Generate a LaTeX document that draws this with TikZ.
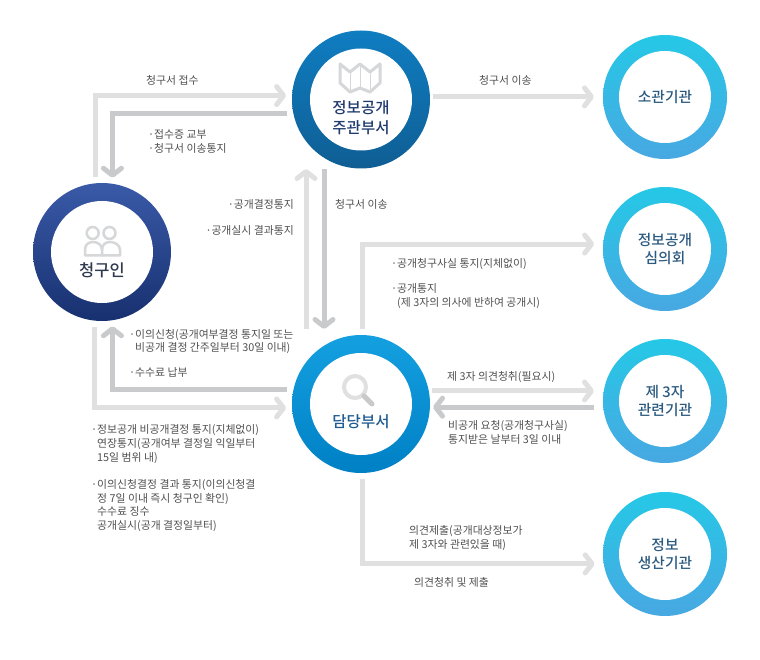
\documentclass[tikz,border=0pt]{standalone}
\usepackage{fontspec}
\setmainfont{Noto Sans CJK KR}
\newfontfamily\namefont{Noto Sans CJK KR Medium}
\usetikzlibrary{arrows.meta, calc}
\definecolor{lightline}{HTML}{E0E0E0}
\definecolor{darkline}{HTML}{C9CACC}
\definecolor{note}{HTML}{4F4F4F}
\definecolor{iconline}{HTML}{D6D7D9}
\definecolor{agencytop}{HTML}{25C8E6}
\definecolor{agencybottom}{HTML}{48A8E2}
\definecolor{agencytext}{HTML}{2B5A80}
\definecolor{claimanttop}{HTML}{3A5AA8}
\definecolor{claimantbottom}{HTML}{17306F}
\definecolor{claimanttext}{HTML}{2F3A4F}
\definecolor{maintop}{HTML}{0F7DC1}
\definecolor{mainbottom}{HTML}{0F5E94}
\definecolor{maintext}{HTML}{1F3A6E}
\definecolor{officertop}{HTML}{14A0E0}
\definecolor{officerbottom}{HTML}{0080C5}
\definecolor{officertext}{HTML}{1F5C92}
\newcommand{\dotitem}{\makebox[6pt][l]{·}}
\newcommand{\dotgap}{\hspace*{6pt}}

\begin{document}
\begin{tikzpicture}[
  x=1pt, y=-1pt,
  every node/.style={inner sep=0pt},
  ring/.style={
    circle, minimum size=138pt, outer sep=6pt,
    path picture={\fill[white] (path picture bounding box.center) circle[radius=51pt];}
  },
  agency/.style={
    circle, minimum size=124pt, outer sep=9pt, top color=agencytop, bottom color=agencybottom,
    font=\fontsize{14.7}{18}\selectfont\namefont, text=agencytext, align=center,
    path picture={\fill[white] (path picture bounding box.center) circle[radius=46pt];}
  },
  ringname/.style={font=\fontsize{15.5}{20}\selectfont\namefont, align=center},
  memo/.style={font=\fontsize{10.85}{13.6}\selectfont, text=note, align=left, anchor=west, yshift=-1pt},
  lightarrow/.style={draw=lightline, line width=5pt, -{Straight Barb[length=7pt,width=18pt,round]}},
  darkarrow/.style={draw=darkline, line width=5pt, -{Straight Barb[length=7pt,width=18pt,round]}}
]
  \useasboundingbox (0,0) rectangle (760,660);

  \node[ring, top color=claimanttop, bottom color=claimantbottom] (claimant) at (102,252) {};
  \node[ring, top color=maintop, bottom color=mainbottom] (main) at (361,99.5) {};
  \node[ring, top color=officertop, bottom color=officerbottom] (officer) at (361,404) {};
  \node[agency] (owner) at (665,97) {소관기관};
  \node[agency] (board) at (665,249) {정보공개\\심의회};
  \node[agency] (third) at (665,401) {제 3자\\관련기관};
  \node[agency] (maker) at (665,554) {정보\\생산기관};

  \node[ringname, text=claimanttext] (claimantname) at (102,270) {\fontsize{16.5}{20}\selectfont 청구인};
  \node[ringname, text=maintext] (mainname) at (361,118) {정보공개\\주관부서};
  \node[ringname, text=officertext] (officername) at (361,421.5) {담당부서};

  \draw[iconline, line width=3pt, line join=round] (340,64) -- (350,72) -- (360,64) -- (370,72) -- (380,64) -- (380,83) -- (370,92) -- (360,88) -- (350,92) -- (340,83) -- cycle;
  \draw[iconline, line width=0.6pt] (350,72) -- (350,92) (360,64) -- (360,88) (370,72) -- (370,92);
  \draw[iconline, line width=2.5pt] (92.7,233) circle[radius=6pt] (109.5,233) circle[radius=6pt];
  \draw[iconline, line width=2.5pt, line join=round] (85,255.5) -- (85,250) .. controls (85,244) and (89,242) .. (93,242) .. controls (98,242) and (102,245) .. (102,250) -- (102,255.5) -- cycle;
  \draw[iconline, line width=2.5pt, line join=round] (102,250) .. controls (102,245) and (105,242) .. (110,242) .. controls (115,242) and (120,245) .. (120,250) -- (120,255.5) -- (102,255.5);
  \draw[lightline, line width=4pt] (355,387) circle[radius=11pt];
  \draw[darkline, line width=5pt, line cap=round] (364,396) -- (372,404);

  \draw[lightarrow] (claimant.95) |- (main.177);
  \draw[darkarrow] (main.191.5) -| (claimant.82);
  \draw[lightarrow] ([xshift=-3pt]main.2) -- (main.2 -| owner.west);
  \draw[lightarrow] ([xshift=-55pt]officer.north) -- ([xshift=-55pt,yshift=5.5pt]main.south);
  \draw[darkarrow] ([xshift=-37pt,yshift=5.5pt]main.south) -- ([xshift=-37pt]officer.north);
  \draw[lightarrow] ([xshift=1.5pt]officer.north) |- (board.176.4);
  \draw[lightarrow] ([xshift=-3pt]officer.10) -- (officer.10 -| third.west);
  \draw[darkarrow] (third.185.6) -- ([xshift=-3pt]third.185.6 -| officer.east);
  \draw[lightarrow] ([xshift=1.5pt]officer.south) |- (maker.188.5);
  \draw[darkarrow] (officer.169) -| (claimant.-82);
  \draw[lightarrow] (claimant.-96) |- (officer.183);

  \node[memo] (n1) at (146,79) {청구서 접수};
  \node[memo] (n2) at (148,140.5) {\dotitem 접수증 교부\\\dotitem 청구서 이송통지};
  \node[memo, anchor=east] (n3) at (294,203) {\dotitem 공개결정통지};
  \node[memo, anchor=east] (n4) at (294,229) {\dotitem 공개실시 결과통지};
  \node[memo] (n5) at (335,203) {청구서 이송};
  \node[memo] (n6) at (479,79) {청구서 이송};
  \node[memo] (n7) at (391,263) {\dotitem 공개청구사실 통지(지체없이)};
  \node[memo] (n8) at (391,295) {\dotitem 공개통지\\\dotgap(제 3자의 의사에 반하여 공개시)};
  \node[memo] (n9) at (447,376) {제 3자 의견청취(필요시)};
  \node[memo] (n10) at (448,431.5) {비공개 요청(공개청구사실)\\통지받은 날부터 3일 이내};
  \node[memo] (n11) at (129,340.5) {\dotitem 이의신청(공개여부결정 통지일 또는\\\dotgap 비공개 결정 간주일부터 30일 이내)};
  \node[memo] (n12) at (129,371) {\dotitem 수수료 납부};
  \node[memo] (n13) at (91,443) {\dotitem 정보공개 비공개결정 통지(지체없이)\\\dotgap 연장통지(공개여부 결정일 익일부터\\\dotgap 15일 범위 내)};
  \node[memo] (n14) at (91,504.5) {\dotitem 이의신청결정 결과 통지(이의신청결\\\dotgap 정 7일 이내 즉시 청구인 확인)\\\dotgap 수수료 징수\\\dotgap 공개실시(공개 결정일부터)};
  \node[memo] (n15) at (409,537) {의견제출(공개대상정보가\\제 3자와 관련있을 때)};
  \node[memo] (n16) at (414,581) {의견청취 및 제출};
\end{tikzpicture}
\end{document}
